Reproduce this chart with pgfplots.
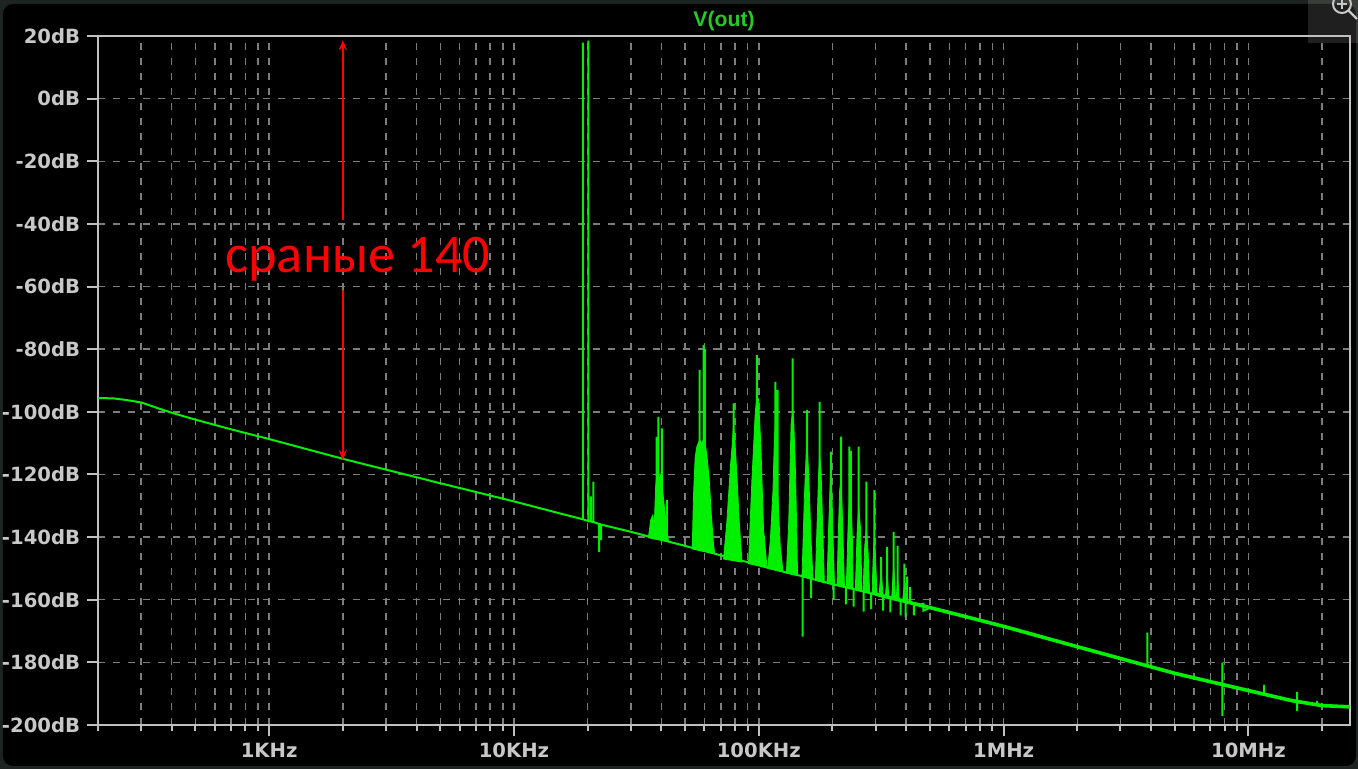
\documentclass[border=0pt]{standalone}
\usepackage{pgfplots}
\pgfplotsset{compat=1.18}
\usetikzlibrary{arrows.meta}
\usepackage{fontspec}
\setmainfont{DejaVu Sans}
\newfontfamily\annfont{Carlito}
\newfontfamily\titlefont{Liberation Sans}

\definecolor{trace}{RGB}{0,240,0}
\definecolor{titlegreen}{RGB}{40,200,40}
\definecolor{framec}{RGB}{192,192,192}
\definecolor{gridc}{RGB}{125,125,125}
\definecolor{labelc}{RGB}{200,200,200}
\definecolor{rim}{RGB}{30,36,33}

\begin{document}
\begin{tikzpicture}
% page in pixels of the reference: 1 px = 0.5bp, y downwards
\begin{scope}[x=0.5bp,y=-0.5bp]
  \fill[rim] (0,0) rectangle (1358,769);
  \fill[black, rounded corners=5bp] (3,4) rectangle (1356,766);
  \fill[white, opacity=0.12] (1308,0) rectangle (1358,43);
  \begin{scope}
    \clip (1308,0) rectangle (1358,43);
    \draw[labelc, line width=1bp] (1342,4) circle[radius=4.5bp];
    \draw[labelc, line width=1.2bp] (1348,10) -- (1357,19);
    \draw[labelc, line width=0.8bp] (1337,4) -- (1347,4) (1342,0) -- (1342,9);
  \end{scope}
\end{scope}

\begin{axis}[
  at={(49bp,-18bp)}, anchor=north west,
  scale only axis, width=626bp, height=344.5bp,
  xmode=log, xmin=200, xmax=2.6e7, ymin=-200, ymax=20,
  axis line style={framec, line width=1bp},
  xtick={1e3,1e4,1e5,1e6,1e7},
  xticklabels={1KHz,10KHz,100KHz,1MHz,10MHz},
  minor xtick={200,300,400,500,600,700,800,900,
    2000,3000,4000,5000,6000,7000,8000,9000,
    20000,30000,40000,50000,60000,70000,80000,90000,
    200000,300000,400000,500000,600000,700000,800000,900000,
    2000000,3000000,4000000,5000000,6000000,7000000,8000000,9000000,
    20000000},
  ytick={-200,-180,-160,-140,-120,-100,-80,-60,-40,-20,0,20},
  yticklabels={-200dB,-180dB,-160dB,-140dB,-120dB,-100dB,-80dB,-60dB,-40dB,-20dB,0dB,20dB},
  xtick pos=left, ytick pos=left, tick align=outside,
  major tick length=5.5bp, minor tick length=3bp,
  every tick/.append style={framec, line width=1bp},
  xmajorgrids, xminorgrids, ymajorgrids,
  major grid style={gridc, line width=0.75bp, dash pattern=on 3.5bp off 4bp},
  minor grid style={gridc, line width=0.75bp, dash pattern=on 3.5bp off 4bp},
  tick label style={labelc, font=\bfseries\fontsize{9.8bp}{12bp}\selectfont},
  title={V(out)},
  title style={titlegreen, font=\titlefont\bfseries\fontsize{10.6bp}{12bp}\selectfont, at={(0.5,1)}, anchor=base, yshift=-1.4bp},
]

% harmonic clusters (dense spectral lines drawn as filled shapes)
\addplot[fill=trace, draw=trace, line width=0.4bp] coordinates {
 (35400,-140.2)(36200,-134.5)(36900,-133)(37400,-137)(37900,-124)(38600,-118)(39300,-122)(39800,-120)(40600,-126)(41100,-130)(41900,-136)(42800,-141.5)} --cycle;
\addplot[fill=trace, draw=trace, line width=0.4bp] coordinates {
 (53500,-143.8)(54100,-127)(55000,-114.3)(55900,-111)(57300,-109)(58600,-110)(59900,-108)(61400,-114)(62800,-121.8)(63800,-131.4)(65300,-142)(66000,-145.2)} --cycle;
\addplot[fill=trace, draw=trace, line width=0.4bp] coordinates {
 (71800,-147)(74100,-135)(76500,-118)(78000,-110)(78900,-104)(80000,-110)(81400,-120)(83200,-135)(85400,-148)} --cycle;
\addplot[fill=trace, draw=trace, line width=0.4bp] coordinates {
 (90800,-148.5)(93700,-122)(96800,-100)(98300,-95)(99800,-96)(102000,-111)(104600,-137.7)(108000,-149.5)} --cycle;
\addplot[fill=trace, draw=trace, line width=0.4bp] coordinates {
 (108700,-150)(111500,-141)(114300,-125)(115500,-112)(116800,-104)(118000,-108)(119400,-125)(122400,-143)(125600,-151)} --cycle;
\addplot[fill=trace, draw=trace, line width=0.4bp] coordinates {
 (129600,-151.5)(132500,-135.6)(135500,-104)(137400,-100)(138800,-102)(141300,-119.6)(144100,-152)} --cycle;
\addplot[fill=trace, draw=trace, line width=0.4bp] coordinates {
 (150200,-152.6)(153500,-128)(156400,-112)(157400,-110)(159900,-119.6)(163500,-141)(166600,-153.4)} --cycle;
\addplot[fill=trace, draw=trace, line width=0.4bp] coordinates {
 (170200,-153.8)(172900,-136.7)(175600,-119.6)(177300,-114)(179600,-118.6)(182400,-136.7)(185300,-154.6)} --cycle;
\addplot[fill=trace, draw=trace, line width=0.4bp] coordinates {
 (190000,-154.7)(193000,-137)(195900,-121.8)(197200,-119)(198500,-123)(201000,-140)(203900,-155.3)} --cycle;
\addplot[fill=trace, draw=trace, line width=0.4bp] coordinates {
 (208800,-155.5)(211300,-138.8)(214000,-125)(216800,-121)(219500,-133)(223900,-156)} --cycle;
\addplot[fill=trace, draw=trace, line width=0.4bp] coordinates {
 (227800,-156.1)(231600,-136.7)(234400,-128)(238200,-127)(241200,-141)(242800,-156.6)} --cycle;
\addplot[fill=trace, draw=trace, line width=0.4bp] coordinates {
 (248000,-156.8)(252000,-139)(255900,-130)(260100,-137)(264000,-157.3)} --cycle;
\addplot[fill=trace, draw=trace, line width=0.4bp] coordinates {
 (266700,-157.3)(270800,-143)(275100,-136.7)(279600,-145)(283800,-158)} --cycle;
\addplot[fill=trace, draw=trace, line width=0.4bp] coordinates {
 (290200,-158.1)(293500,-146)(296700,-138.8)(300000,-147)(304100,-158.5)} --cycle;
\addplot[fill=trace, draw=trace, line width=0.4bp] coordinates {
 (310000,-158.7)(316000,-150)(322000,-159)} --cycle;
\addplot[fill=trace, draw=trace, line width=0.4bp] coordinates {
 (329000,-159.2)(334400,-151)(340000,-159.4)} --cycle;
\addplot[fill=trace, draw=trace, line width=0.4bp] coordinates {
 (349000,-159.5)(355600,-149)(362000,-159.8)} --cycle;
\addplot[fill=trace, draw=trace, line width=0.4bp] coordinates {
 (364000,-159.9)(369300,-153)(375000,-160.1)} --cycle;
\addplot[fill=trace, draw=trace, line width=0.4bp] coordinates {
 (387000,-160.4)(393300,-155)(400000,-160.6)} --cycle;

% thicker noisy floor at high frequencies
\addplot[trace, line width=1.8bp] coordinates {
 (300000,-158.2)(500000,-162.5)(700000,-165.4)(1000000,-168.5)(2000000,-175)
 (5000000,-183.5)(10000000,-189)(15000000,-192.2)(20000000,-193.8)(26000000,-194.2)};

% V(out) spectrum: noise floor with spectral lines
\addplot[trace, line width=1bp] coordinates {
 (200,-95.6)(230,-95.7)(260,-96.2)(300,-97.0)(350,-98.8)(400,-100.3)(500,-102.5)
 (700,-105.6)(1000,-108.7)(2000,-115.0)(5000,-122.8)(10000,-128.6)(15000,-132.2)
 (19100,-134.3)(19100,17.9)(19100,-134.3)(19600,-134.6)
 (20150,-134.9)(20150,18.5)(20150,-134.9)
 (20600,-135)(20600,-127)(20600,-135)
 (21100,-135.2)(21100,-122.3)(21100,-135.2)
 (22300,-135.8)(22300,-144.7)(22300,-135.8)
 (22700,-136)(22700,-141)(22700,-136)
 (25000,-136.8)(30000,-138.3)(35000,-139.7)
 (38300,-140.5)(38300,-108)(38300,-140.5)
 (38900,-140.6)(38900,-101.6)(38900,-140.6)
 (40200,-140.9)(40200,-105.3)(40200,-140.9)
 (42100,-141.3)(42100,-128.2)(42100,-141.3)
 (45000,-141.9)(50000,-142.8)
 (57300,-144.1)(57300,-86.6)(57300,-144.1)
 (59500,-144.4)(59500,-78.7)(59500,-144.4)
 (60300,-144.5)(60300,-80)(60300,-144.5)
 (66000,-145.3)
 (78900,-146.9)(78900,-97.3)(78900,-146.9)
 (90000,-148)
 (98300,-148.9)(98300,-81.9)(98300,-148.9)
 (108000,-149.7)
 (116800,-150.4)(116800,-90.4)(116800,-150.4)
 (119400,-150.6)(119400,-93.1)(119400,-150.6)
 (137400,-151.8)(137400,-82.9)(137400,-151.8)
 (151000,-152.5)(151000,-171.8)(151000,-152.5)
 (157400,-152.9)(157400,-99.4)(157400,-152.9)
 (163600,-153.3)(163600,-159.5)(163600,-153.3)
 (177300,-153.9)(177300,-96.8)(177300,-153.9)
 (197200,-154.9)(197200,-112.7)(197200,-154.9)
 (202000,-155.1)(202000,-160)(202000,-155.1)
 (216800,-155.7)(216800,-107.9)(216800,-155.7)
 (227000,-156)(227000,-161.5)(227000,-156)
 (234400,-156.3)(234400,-111.1)(234400,-156.3)
 (237800,-156.4)(237800,-112.5)(237800,-156.4)
 (244000,-156.6)(244000,-162.2)(244000,-156.6)
 (255900,-157)(255900,-111.1)(255900,-157)
 (268000,-157.4)(268000,-163.8)(268000,-157.4)
 (275100,-157.6)(275100,-122.3)(275100,-157.6)
 (288000,-158)(288000,-163)(288000,-158)
 (296700,-158.2)(296700,-125)(296700,-158.2)
 (316000,-158.8)(316000,-146.3)(316000,-158.8)
 (322000,-159)(322000,-163.5)(322000,-159)
 (334400,-159.3)(334400,-143.1)(334400,-159.3)
 (345000,-159.5)(345000,-164)(345000,-159.5)
 (355600,-159.7)(355600,-138.3)(355600,-159.7)
 (369300,-160)(369300,-142.8)(369300,-160)
 (380000,-160.2)(380000,-165)(380000,-160.2)
 (393300,-160.5)(393300,-148.5)(393300,-160.5)
 (398000,-160.6)(398000,-165.4)(398000,-160.6)
 (403400,-160.7)(403400,-152.6)(403400,-160.7)
 (415000,-161)(415000,-156)(415000,-161)
 (430000,-161.3)(430000,-165)(430000,-161.3)
 (450000,-161.7)(470000,-161.3)(470000,-163.5)(500000,-162.5)
 (700000,-165.4)(1000000,-168.5)(2000000,-175)
 (3870000,-181)(3870000,-170.5)(3870000,-181)
 (5000000,-183.5)
 (7830000,-187.2)(7830000,-180.1)(7830000,-197.1)(7830000,-187.2)
 (10000000,-189)
 (11600000,-190.3)(11600000,-187.2)(11600000,-190.3)
 (15000000,-192.2)
 (15800000,-192.4)(15800000,-189.4)(15800000,-195.5)(15800000,-192.4)
 (19100000,-193.7)(19100000,-192.3)(19100000,-193.7)
 (20000000,-193.8)(26000000,-194.2)};

% annotation
\draw[red, line width=1bp, -{Stealth[length=5bp,width=4bp]}] (axis cs:2000,-38.8) -- (axis cs:2000,18.7);
\draw[red, line width=1bp, -{Stealth[length=5bp,width=4bp]}] (axis cs:2000,-61.2) -- (axis cs:2000,-115.4);
\node[red, anchor=base, inner sep=0pt, font=\annfont\fontsize{27.2bp}{30bp}\selectfont] at (axis cs:2305,-55.5) {сраные 140};
\end{axis}
% the page is exactly the screenshot frame
\pgfresetboundingbox
\path[use as bounding box] (0bp,0bp) rectangle (679bp,-384.5bp);
\end{tikzpicture}
\end{document}
